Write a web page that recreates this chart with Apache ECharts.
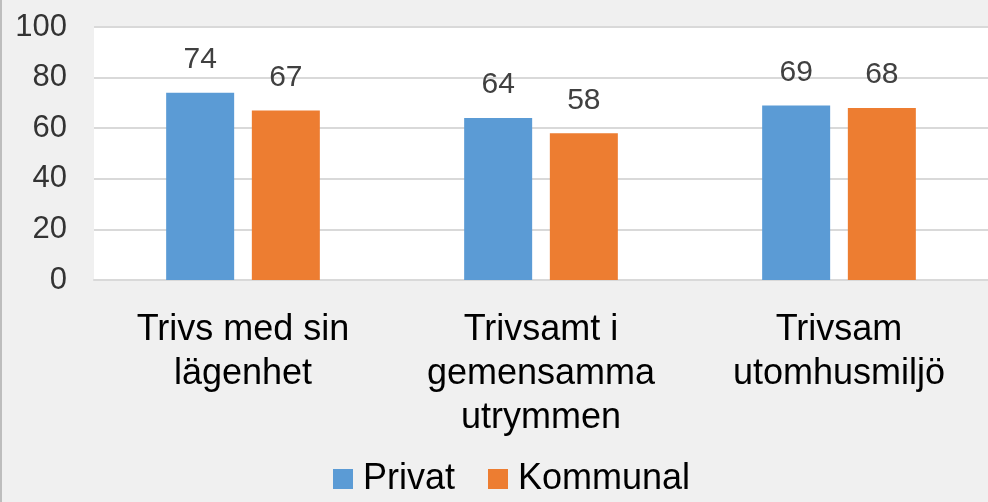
<!DOCTYPE html>
<html>
<head>
<meta charset="utf-8">
<script src="https://cdn.jsdelivr.net/npm/echarts@6/dist/echarts.min.js"></script>
<style>
html, body { margin: 0; padding: 0; background: #f0f0f0; }
#chart { width: 988px; height: 502px; box-sizing: border-box; border-left: 2px solid #bdbdbd; }
</style>
</head>
<body>
<div id="chart"></div>
<script>
var categories = ['Trivs med sin\nlägenhet', 'Trivsamt i\ngemensamma\nutrymmen', 'Trivsam\nutomhusmiljö'];
var privat = [74, 64, 69];
var kommunal = [67, 58, 68];
var yTicks = [0, 20, 40, 60, 80, 100];

var myChart = echarts.init(document.getElementById('chart'));
var font = 'Liberation Sans, Arial, sans-serif';
var option = {
  backgroundColor: '#f0f0f0',
  textStyle: { fontFamily: font },
  color: ['#5b9bd5', '#ed7d31'],
  grid: {
    left: 92, right: -8, top: 27, bottom: 222,
    show: true, backgroundColor: '#ffffff', borderWidth: 0
  },
  legend: {
    data: ['Privat', 'Kommunal'],
    left: 326, bottom: 0,
    itemWidth: 20, itemHeight: 20, itemGap: 33,
    icon: 'rect',
    textStyle: { fontSize: 36, color: '#000', fontFamily: font, padding: [0, 0, 0, 5] }
  },
  xAxis: {
    type: 'category',
    data: categories,
    axisLine: { show: true, lineStyle: { color: '#d9d9d9', width: 2 } },
    axisTick: { show: false },
    axisLabel: { fontSize: 36, color: '#000', lineHeight: 44, margin: 28, interval: 0 }
  },
  yAxis: {
    type: 'value',
    min: yTicks[0], max: yTicks[yTicks.length - 1], interval: 20,
    axisLine: { show: false },
    axisTick: { show: false },
    axisLabel: { fontSize: 31, color: '#333', margin: 27 },
    splitLine: { lineStyle: { color: '#d9d9d9', width: 2 } }
  },
  series: [{
    name: 'Privat', type: 'bar', data: privat,
    barWidth: 68, barGap: '26%',
    label: { show: true, position: 'top', distance: 18, fontSize: 30, color: '#404040' }
  }, {
    name: 'Kommunal', type: 'bar', data: kommunal,
    barWidth: 68, barGap: '26%',
    label: { show: true, position: 'top', distance: 18, fontSize: 30, color: '#404040' }
  }]
};
myChart.setOption(option);
</script>
</body>
</html>
